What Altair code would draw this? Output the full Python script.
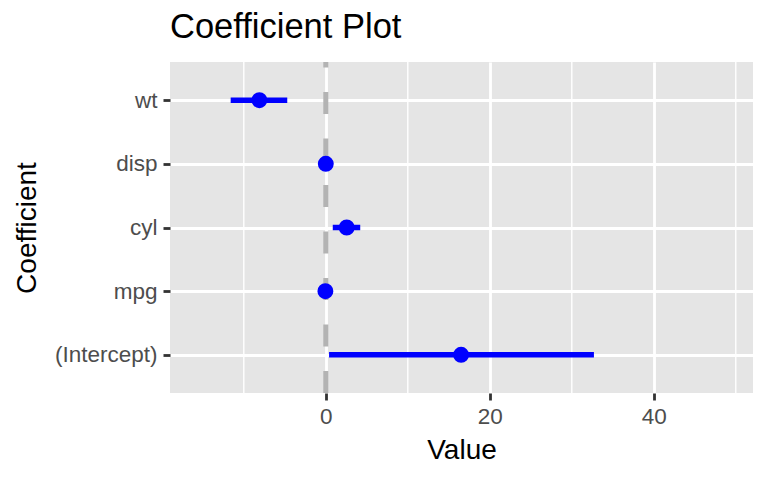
import altair as alt
import pandas as pd

# ---- data ----
terms = ["wt", "disp", "cyl", "mpg", "(Intercept)"]
estimates = [-8.1, 0.0, 2.55, -0.05, 16.5]
lower = [-11.6, -0.05, 0.85, -0.1, 0.4]
upper = [-4.7, 0.05, 4.2, 0.0, 32.7]

major_ticks = [0, 20, 40]
minor_ticks = [-10, 10, 30, 50]
zero_line = [0]

FONT = "Liberation Sans"

df = pd.DataFrame({"term": terms, "estimate": estimates, "lower": lower, "upper": upper})
minor_df = pd.DataFrame({"v": minor_ticks})
zero_df = pd.DataFrame({"v": zero_line})

x_scale = alt.Scale(domain=[-19.0, 52.1], nice=False, zero=False)
y_scale = alt.Scale(type="point", padding=0.6)

x_axis = alt.Axis(
    values=major_ticks, grid=True, gridColor="white", gridWidth=2.8,
    domain=False, tickColor="#333333", tickWidth=2.8, tickSize=7,
    labelFont=FONT, labelFontSize=22.5, labelColor="#4D4D4D", labelPadding=5,
    title="Value", titleFont=FONT, titleFontSize=28, titleFontWeight="normal",
    titleColor="black", titleBaseline="alphabetic", titleAlign="center",
    titleX=291.5, titleY=65,
)
y_axis = alt.Axis(
    grid=True, gridColor="white", gridWidth=2.8,
    domain=False, tickColor="#333333", tickWidth=2.8, tickSize=7,
    labelFont=FONT, labelFontSize=22.5, labelColor="#4D4D4D", labelPadding=6,
    title="Coefficient", titleFont=FONT, titleFontSize=28, titleFontWeight="normal",
    titleColor="black", titleBaseline="alphabetic", titleAlign="center",
    titleAngle=270, titleX=-135, titleY=165.5,
)

minor = alt.Chart(minor_df).mark_rule(color="white", strokeWidth=1.4).encode(
    x=alt.X("v:Q", scale=x_scale, axis=x_axis)
)

vline = alt.Chart(zero_df).mark_rule(
    color="#B3B3B3", strokeWidth=5, strokeDash=[22, 24.5]
).encode(
    x=alt.X("v:Q", scale=x_scale, axis=x_axis),
    y=alt.value(331), y2=alt.value(0),
)

bars = alt.Chart(df).mark_rule(color="#0000FF", strokeWidth=5.5).encode(
    x=alt.X("lower:Q", scale=x_scale, axis=x_axis),
    x2="upper:Q",
    y=alt.Y("term:N", sort=terms, scale=y_scale, axis=y_axis),
)

points = alt.Chart(df).mark_circle(color="#0000FF", size=254, opacity=1).encode(
    x=alt.X("estimate:Q", scale=x_scale, axis=x_axis),
    y=alt.Y("term:N", sort=terms, scale=y_scale, axis=y_axis),
)

chart = alt.layer(minor, vline, bars, points).properties(
    width=583, height=331,
    background="white",
    autosize=alt.AutoSizeParams(type="none"),
    padding={"left": 162, "top": 54, "right": 7, "bottom": 71},
    title=alt.TitleParams(
        "Coefficient Plot", anchor="start", frame="group", font=FONT,
        fontSize=34.5, fontWeight="normal", color="black", offset=14,
    ),
).configure_view(fill="#E5E5E5", strokeWidth=0)

chart.save("out.html", embed_options={"renderer": "svg", "actions": False})
